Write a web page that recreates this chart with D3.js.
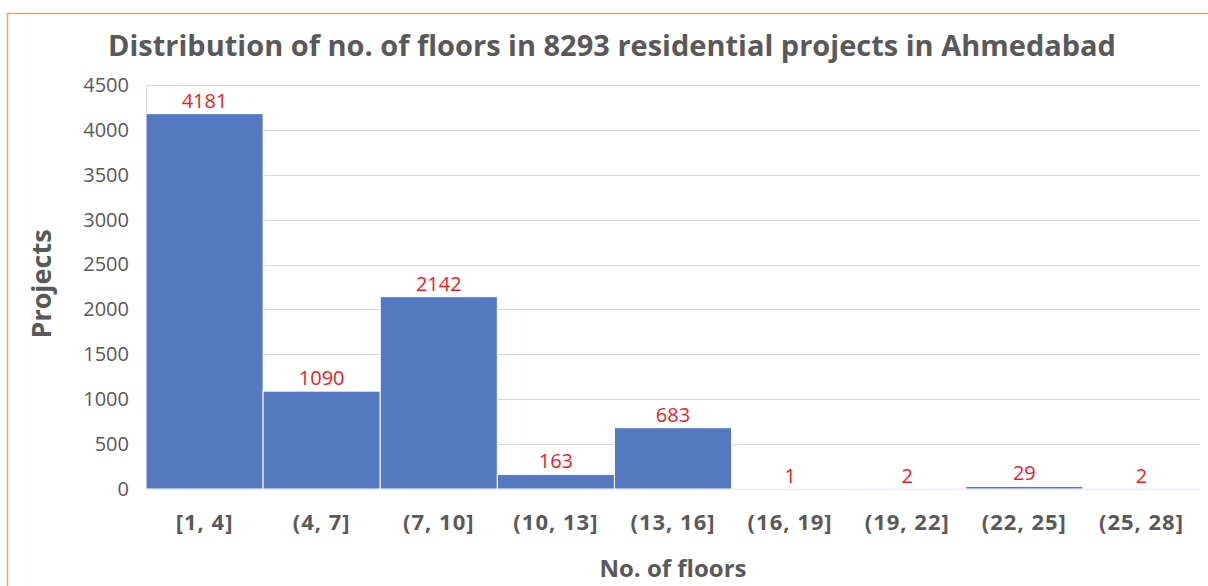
<!DOCTYPE html>
<html>
<head>
<meta charset="utf-8">
<script src="https://cdnjs.cloudflare.com/ajax/libs/d3/7.8.5/d3.min.js"></script>
<style>
  body { margin: 0; background: #fff; }
  svg { display: block; font-family: "Open Sans", "Noto Sans", sans-serif; }
</style>
</head>
<body>
<div id="chart"></div>
<script>
let bins = ["[1, 4]", "(4, 7]", "(7, 10]", "(10, 13]", "(13, 16]", "(16, 19]", "(19, 22]", "(22, 25]", "(25, 28]"]
let projects = [4181, 1090, 2142, 163, 683, 1, 2, 29, 2]
let yTicks = [0, 500, 1000, 1500, 2000, 2500, 3000, 3500, 4000, 4500]

var W = 1208, H = 586
var margin = { top: 85, right: 8, bottom: 97, left: 146 },
    width = W - margin.left - margin.right,
    height = H - margin.top - margin.bottom

var svg = d3.select("#chart")
    .append("svg")
    .attr("width", W)
    .attr("height", H)

// orange frame of the chart area (cut off at right and bottom)
svg.append("path")
    .attr("d", "M7.5," + H + " V13.5 H" + W)
    .attr("fill", "none")
    .attr("stroke", "#f4a261")
    .attr("stroke-width", 1.5)

svg.append("text")
    .attr("x", 612)
    .attr("y", 56)
    .attr("text-anchor", "middle")
    .attr("font-size", 29)
    .attr("font-weight", "bold")
    .attr("fill", "#595959")
    .text("Distribution of no. of floors in 8293 residential projects in Ahmedabad")

var g = svg.append("g")
    .attr("transform", "translate(" + margin.left + "," + margin.top + ")")

var x = d3.scaleBand()
    .domain(bins)
    .range([0, width])
    .padding(0)

var y = d3.scaleLinear()
    .domain([0, 4500])
    .range([height, 0])

// gridlines
g.append("g")
    .selectAll("line")
    .data(yTicks)
    .enter()
    .append("line")
    .attr("x1", 0)
    .attr("x2", width)
    .attr("y1", d => Math.round(y(d)) + 0.5)
    .attr("y2", d => Math.round(y(d)) + 0.5)
    .attr("stroke", "#d9d9d9")
    .attr("stroke-width", 1)

g.append("line")
    .attr("x1", 0.5).attr("x2", 0.5)
    .attr("y1", 0).attr("y2", height)
    .attr("stroke", "#d9d9d9")

// y axis labels
var yAxis = g.append("g")
    .call(d3.axisLeft(y).tickValues(yTicks).tickFormat(d3.format("d")).tickSize(0).tickPadding(17))
yAxis.select(".domain").remove()
yAxis.selectAll("text")
    .attr("font-size", 20)
    .attr("font-family", "Open Sans, sans-serif")
    .attr("fill", "#595959")

// bars
g.selectAll("rect.bar")
    .data(projects)
    .enter()
    .append("rect")
    .attr("class", "bar")
    .attr("x", (d, i) => x(bins[i]))
    .attr("width", x.bandwidth())
    .attr("y", d => y(d))
    .attr("height", d => height - y(d))
    .attr("fill", "#5479c1")
    .attr("stroke", "#ffffff")
    .attr("stroke-width", 1)

// data labels
g.selectAll("text.lbl")
    .data(projects)
    .enter()
    .append("text")
    .attr("class", "lbl")
    .attr("x", (d, i) => x(bins[i]) + x.bandwidth() / 2)
    .attr("y", d => y(d) - 6)
    .attr("text-anchor", "middle")
    .attr("font-size", 20)
    .attr("fill", "#ee1c25")
    .text(d => d)

// x axis labels
var xAxis = g.append("g")
    .attr("transform", "translate(0," + height + ")")
    .call(d3.axisBottom(x).tickSize(0).tickPadding(25))
xAxis.select(".domain").remove()
xAxis.selectAll("text")
    .attr("font-size", 22)
    .attr("font-weight", "bold")
    .attr("letter-spacing", 1)
    .attr("font-family", "Open Sans, sans-serif")
    .attr("fill", "#595959")

// axis titles
svg.append("text")
    .attr("x", margin.left + width / 2)
    .attr("y", 577)
    .attr("text-anchor", "middle")
    .attr("font-size", 24)
    .attr("font-weight", "bold")
    .attr("fill", "#595959")
    .text("No. of floors")

svg.append("text")
    .attr("transform", "translate(51," + 284 + ") rotate(-90)")
    .attr("text-anchor", "middle")
    .attr("font-size", 27)
    .attr("font-weight", "bold")
    .attr("fill", "#595959")
    .text("Projects")
</script>
</body>
</html>
